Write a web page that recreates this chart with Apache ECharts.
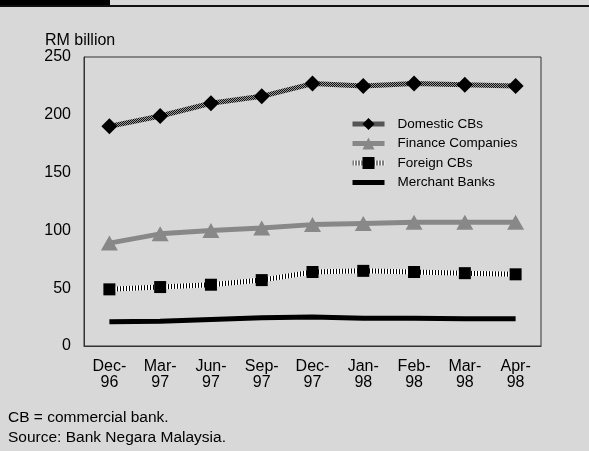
<!DOCTYPE html>
<html>
<head>
<meta charset="utf-8">
<script src="https://cdn.jsdelivr.net/npm/echarts@6/dist/echarts.min.js"></script>
<style>
  html, body { margin: 0; padding: 0; background: #d8d8d8; }
  #chart { width: 589px; height: 451px; }
</style>
</head>
<body>
<div id="chart"></div>
<script>
// Period labels (month-year), drawn on two lines
const categories = ['Dec-\n96', 'Mar-\n97', 'Jun-\n97', 'Sep-\n97', 'Dec-\n97', 'Jan-\n98', 'Feb-\n98', 'Mar-\n98', 'Apr-\n98'];

// Outstanding amounts, RM billion
const domesticCBs      = [190, 199, 210, 216, 227, 225, 227, 226, 225];
const financeCompanies = [89, 97, 100, 102, 105, 106, 107, 107, 107];
const foreignCBs       = [49, 51, 53, 57, 64, 65, 64, 63, 62];
const merchantBanks    = [21, 21.5, 23, 24.5, 25, 24, 24, 23.5, 23.5];

// Y-axis scale
const yMin = 0, yMax = 250, yStep = 50;

// Small canvas patterns used as line textures
function makePattern(w, h, paint) {
  const c = document.createElement('canvas');
  c.width = w; c.height = h;
  paint(c.getContext('2d'));
  return c;
}
const hatch = makePattern(2, 2, g => {
  g.fillStyle = '#9a9a9a'; g.fillRect(0, 0, 2, 2);
  g.fillStyle = '#111'; g.fillRect(0, 0, 1, 1); g.fillRect(1, 1, 1, 1);
});
const stripes = makePattern(3, 1, g => {
  g.fillStyle = '#ffffff'; g.fillRect(0, 0, 3, 1);
  g.fillStyle = '#000000'; g.fillRect(0, 0, 1, 1);
});

const font = 'Liberation Sans, Arial, sans-serif';
const chart = echarts.init(document.getElementById('chart'));

chart.setOption({
  backgroundColor: '#d8d8d8',
  animation: false,
  textStyle: { fontFamily: font },
  graphic: [
    { type: 'rect', left: 0, top: 0, shape: { width: 110, height: 6 }, style: { fill: '#000' } },
    { type: 'rect', left: 0, top: 5, shape: { width: 589, height: 2 }, style: { fill: '#111' } },
    { type: 'text', left: 45, top: 33, style: { text: 'RM billion', font: '16px ' + font, fill: '#000' } },
    { type: 'text', left: 8, top: 410, style: { text: 'CB = commercial bank.', font: '15.5px ' + font, fill: '#000' } },
    { type: 'text', left: 8, top: 430, style: { text: 'Source: Bank Negara Malaysia.', font: '15.5px ' + font, fill: '#000' } }
  ],
  grid: {
    left: 84, right: 48, top: 57, bottom: 105,
    show: true, borderColor: '#333', borderWidth: 1, backgroundColor: 'transparent'
  },
  legend: {
    orient: 'vertical',
    left: 345, top: 112,
    itemWidth: 32, itemHeight: 15, itemGap: 5.5,
    textStyle: { fontSize: 13.5, color: '#000', fontFamily: font, padding: [0, 0, 0, 8] },
    lineStyle: { width: 5 },
    data: [
      'Domestic CBs',
      'Finance Companies',
      'Foreign CBs',
      { name: 'Merchant Banks', itemStyle: { opacity: 0 } }
    ]
  },
  xAxis: {
    type: 'category',
    data: categories,
    boundaryGap: true,
    axisLine: { show: true, lineStyle: { color: '#333' } },
    axisTick: { show: false },
    axisLabel: { color: '#000', fontSize: 16, lineHeight: 16, margin: 13, interval: 0 }
  },
  yAxis: {
    type: 'value',
    min: yMin, max: yMax, interval: yStep,
    splitLine: { show: false },
    axisLine: { show: true, lineStyle: { color: '#333' } },
    axisTick: { show: false },
    axisLabel: { color: '#000', fontSize: 16, margin: 13 }
  },
  series: [
    {
      name: 'Domestic CBs', type: 'line', data: domesticCBs,
      symbol: 'diamond', symbolSize: 16,
      itemStyle: { color: '#000' },
      lineStyle: { width: 5, color: { image: hatch, repeat: 'repeat' } },
      z: 4
    },
    {
      name: 'Finance Companies', type: 'line', data: financeCompanies,
      symbol: 'triangle', symbolSize: [17, 15],
      itemStyle: { color: '#888' },
      lineStyle: { width: 5, color: '#888' },
      z: 3
    },
    {
      name: 'Foreign CBs', type: 'line', data: foreignCBs,
      symbol: 'rect', symbolSize: 12,
      itemStyle: { color: '#000' },
      lineStyle: { width: 5, color: { image: stripes, repeat: 'repeat' } },
      z: 3
    },
    {
      name: 'Merchant Banks', type: 'line', data: merchantBanks,
      symbol: 'none',
      itemStyle: { color: '#000' },
      lineStyle: { width: 5, color: '#000' },
      z: 2
    }
  ]
});
</script>
</body>
</html>
